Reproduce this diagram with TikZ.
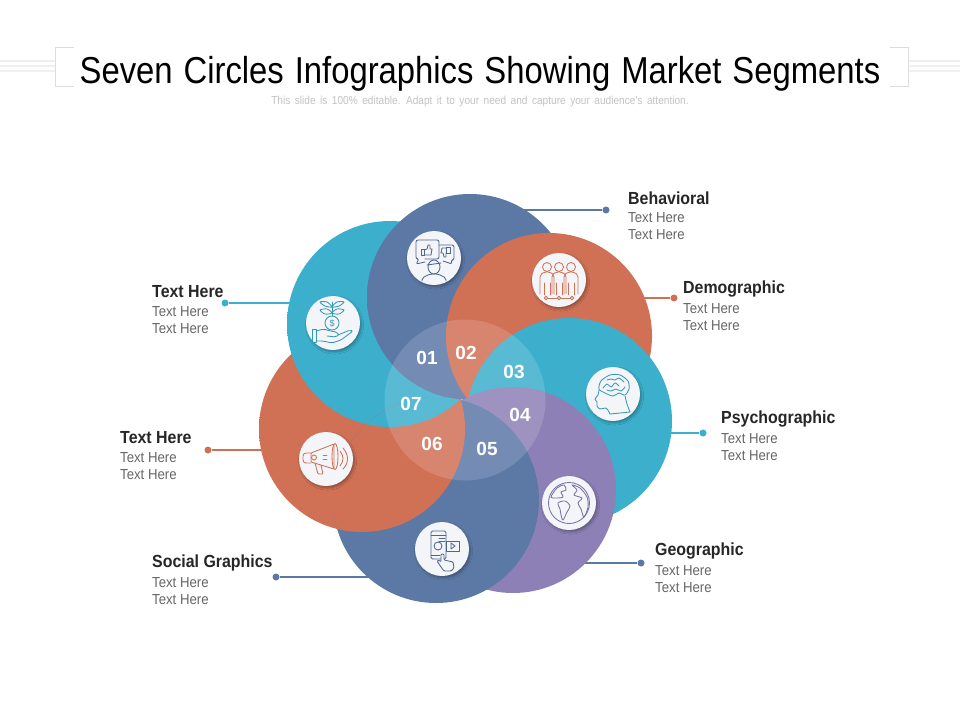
\documentclass[tikz,border=0pt]{standalone}
\usepackage{fontspec}
\usetikzlibrary{shadows.blur}
\setmainfont{Liberation Sans}
\newfontfamily\titlefont[FakeStretch=0.875,WordSpace=1.2]{Liberation Sans}
\newfontfamily\subfont[FakeStretch=0.88,WordSpace=1.6]{Liberation Sans}
\newfontfamily\headfont[FakeStretch=0.91]{Liberation Sans}
\newfontfamily\slimfont[FakeStretch=0.91]{Liberation Sans}

\definecolor{tealbase}{HTML}{3CAFCC}
\definecolor{tealedge}{HTML}{3699B6}
\definecolor{bluebase}{HTML}{5C79A6}
\definecolor{blueedge}{HTML}{4D6690}
\definecolor{orangebase}{HTML}{D07055}
\definecolor{orangeedge}{HTML}{BD644B}
\definecolor{purplebase}{HTML}{8C80B6}
\definecolor{purpleedge}{HTML}{7B70A4}
\definecolor{discfill}{HTML}{F3F5F8}
\definecolor{rulegrey}{HTML}{DDDDDD}
\definecolor{stripegrey}{HTML}{EFEFEF}

\pgfdeclareradialshading{tealball}{\pgfpoint{0bp}{0bp}}{color(0bp)=(tealbase);color(36bp)=(tealbase);color(50bp)=(tealedge)}
\pgfdeclareradialshading{blueball}{\pgfpoint{0bp}{0bp}}{color(0bp)=(bluebase);color(36bp)=(bluebase);color(50bp)=(blueedge)}
\pgfdeclareradialshading{orangeball}{\pgfpoint{0bp}{0bp}}{color(0bp)=(orangebase);color(36bp)=(orangebase);color(50bp)=(orangeedge)}
\pgfdeclareradialshading{purpleball}{\pgfpoint{0bp}{0bp}}{color(0bp)=(purplebase);color(36bp)=(purplebase);color(50bp)=(purpleedge)}

\tikzset{
	ball/.style={circle, minimum size=206pt, inner sep=0pt},
	icondisc/.style={circle, minimum size=54pt, inner sep=0pt, fill=discfill, blur shadow={shadow xshift=1.5pt, shadow yshift=-2pt, shadow blur steps=6, shadow opacity=30}},
	icon/.style={line width=0.85pt, line join=round, line cap=round},
	dot/.style={circle, minimum size=7pt, inner sep=0pt},
	link/.style={line width=1.5pt},
	numlabel/.style={text=white, font=\fontsize{19}{19}\selectfont\bfseries, inner sep=0pt},
	headlabel/.style={anchor=west, inner sep=0pt, text=black!85, font=\fontsize{17.5}{19}\headfont\bfseries},
	textlabel/.style={anchor=west, inner sep=0pt, align=left, text=black!60, font=\fontsize{14.5}{17}\slimfont}
}

\begin{document}
\begin{tikzpicture}[x=1pt, y=-1pt]
	\useasboundingbox (0,0) rectangle (960,720);

	\draw[stripegrey, line width=1.5pt] (0,61) -- (55,61) (0,66) -- (55,66) (0,71) -- (55,71);
	\draw[stripegrey, line width=1.5pt] (908,61) -- (960,61) (908,66) -- (960,66) (908,71) -- (960,71);
	\draw[rulegrey] (74,47) -- (55,47) -- (55,86) -- (74,86);
	\draw[rulegrey] (890,47) -- (908,47) -- (908,86) -- (890,86);
	\draw (480,73.5) node[inner sep=0pt, font=\fontsize{37.5}{40}\titlefont] (title) {Seven Circles Infographics Showing Market Segments};
	\draw (480,102) node[inner sep=0pt, text=black!24, font=\fontsize{11.5}{13}\subfont] (subtitle) {This slide is 100\% editable. Adapt it to your need and capture your audience's attention.};

	\coordinate (midTealLeft) at (390,324);
	\coordinate (midBlueTop) at (470,297);
	\coordinate (midOrangeTop) at (549,336);
	\coordinate (midTealRight) at (569,421);
	\coordinate (midPurple) at (513,490);
	\coordinate (midBlueBot) at (436,500);
	\coordinate (midOrangeLeft) at (362,429);

	\draw (606,210) node[dot, fill=bluebase] (dotBehav) {};
	\draw (674,298) node[dot, fill=orangebase] (dotDemo) {};
	\draw (703,433) node[dot, fill=tealbase] (dotPsycho) {};
	\draw (641,563) node[dot, fill=bluebase] (dotGeo) {};
	\draw (276,577) node[dot, fill=bluebase] (dotSocial) {};
	\draw (208,450) node[dot, fill=orangebase] (dotOrange) {};
	\draw (225,303) node[dot, fill=tealbase] (dotTeal) {};

	\draw[link, bluebase] (dotBehav) -- (dotBehav -| midBlueTop);
	\draw[link, orangebase] (dotDemo) -- (dotDemo -| midOrangeTop);
	\draw[link, tealbase] (dotPsycho) -- (dotPsycho -| midTealRight);
	\draw[link, bluebase] (dotGeo) -- (dotGeo -| midPurple);
	\draw[link, bluebase] (dotSocial) -- (dotSocial -| midBlueBot);
	\draw[link, orangebase] (dotOrange) -- (dotOrange -| midOrangeLeft);
	\draw[link, tealbase] (dotTeal) -- (dotTeal -| midTealLeft);

	\draw (midOrangeLeft) node[ball, shading=orangeball] (ballOrangeLeft) {};
	\draw (midTealLeft) node[ball, shading=tealball] (ballTealLeft) {};
	\draw (midBlueTop) node[ball, shading=blueball] (ballBlueTop) {};
	\draw (midOrangeTop) node[ball, shading=orangeball] (ballOrangeTop) {};
	\draw (midTealRight) node[ball, shading=tealball] (ballTealRight) {};
	\draw (midPurple) node[ball, shading=purpleball] (ballPurple) {};
	\draw (midBlueBot) node[ball, shading=blueball] (ballBlueBot) {};
	\begin{scope}
		\clip (midBlueBot) circle (103);
		\draw (midOrangeLeft) node[ball, shading=orangeball] (ballOrangeOver) {};
		\draw (midTealLeft) node[ball, shading=tealball] (ballTealOver) {};
	\end{scope}

	\draw (465,400) node[circle, minimum size=161pt, inner sep=0pt, fill=white, fill opacity=0.15] (hub) {};

	\draw (427,358) node[numlabel] (num1) {01};
	\draw (466,353) node[numlabel] (num2) {02};
	\draw (514,372) node[numlabel] (num3) {03};
	\draw (520,415) node[numlabel] (num4) {04};
	\draw (487,449) node[numlabel] (num5) {05};
	\draw (432,444) node[numlabel] (num6) {06};
	\draw (411,404) node[numlabel] (num7) {07};

	\draw (333,323) node[icondisc] (discPlant) {};
	\draw (434,258) node[icondisc] (discTalk) {};
	\draw (559,280) node[icondisc] (discPeople) {};
	\draw (613,394) node[icondisc] (discBrain) {};
	\draw (569,503) node[icondisc] (discGlobe) {};
	\draw (442,549) node[icondisc] (discPhone) {};
	\draw (326,459) node[icondisc] (discHorn) {};

	\begin{scope}[shift={(333,323)}, icon, draw=tealedge]
		\draw (-1,0) circle (7);
		\draw (-1,0) node[inner sep=0pt, text=tealedge, font=\fontsize{9}{9}\selectfont] (coin) {\$};
		\draw (-1,-7) -- (-1,-21);
		\draw plot[smooth cycle] coordinates {(-1,-10) (-6,-14) (-13,-13) (-8,-9)};
		\draw plot[smooth cycle] coordinates {(-1,-10) (4,-14) (11,-13) (6,-9)};
		\draw plot[smooth cycle] coordinates {(-1,-16) (-6,-21) (-13,-21) (-8,-17)};
		\draw plot[smooth cycle] coordinates {(-1,-16) (4,-21) (11,-21) (6,-17)};
		\draw (-21,6) rectangle (-17,19);
		\draw[rounded corners=2] (-17,8) -- (-9,6) -- (-3,8) -- (4,9) -- (6,12) -- (3,14) -- (-6,13);
		\draw[rounded corners=2] (5,12) -- (17,7) -- (20,8) -- (8,17) -- (-1,20) -- (-10,18) -- (-17,18);
	\end{scope}

	\begin{scope}[shift={(434,258)}, icon, draw=blueedge]
		\draw[rounded corners=2] (-9,1) -- (5,1) -- (5,-18) -- (-18,-18) -- (-18,1) -- (-15,1) -- (-18,6) -- (-9,4);
		\draw[rounded corners=2] (5,-13) -- (20,-13) -- (20,2) -- (17,2) -- (18,6) -- (9,3);
		\draw (-13,-9) rectangle (-10,-3);
		\draw (-10,-8) -- (-7,-9) -- (-6,-13) -- (-4,-13) -- (-4,-9) -- (-2,-9) -- (-3,-3) -- (-10,-3);
		\draw (12,-11) rectangle (16,-5);
		\draw (12,-10) -- (8,-10) -- (7,-5) -- (9,-5) -- (10,-1) -- (12,-1) -- (12,-5);
		\draw (0,9) ellipse (6 and 7);
		\draw (-7,7) -- (7,5);
		\draw[rounded corners=2] (-12,23) -- (-12,20) -- (-4,16) -- (4,16) -- (12,20) -- (12,23);
	\end{scope}

	\begin{scope}[shift={(559,280)}, icon, draw=orangebase]
		\draw (-12,-13) circle (4.5);
		\draw[rounded corners=2] (-19,14) -- (-19,-5) -- (-15,-8) -- (-9,-8) -- (-5,-5) -- (-5,14);
		\draw (-15,3) -- (-15,15) (-9,3) -- (-9,15);
		\draw (0,-13) circle (4.5);
		\draw[rounded corners=2] (-7,14) -- (-7,-5) -- (-3,-8) -- (3,-8) -- (7,-5) -- (7,14);
		\draw (-3,3) -- (-3,15) (3,3) -- (3,15);
		\draw (12,-13) circle (4.5);
		\draw[rounded corners=2] (5,14) -- (5,-5) -- (9,-8) -- (15,-8) -- (19,-5) -- (19,14);
		\draw (9,3) -- (9,15) (15,3) -- (15,15);
		\draw (-14,18) -- (14,18);
		\draw[fill=discfill] (-13,18) circle (1.8);
		\draw[fill=discfill] (0,18) circle (1.8);
		\draw[fill=discfill] (13,18) circle (1.8);
	\end{scope}

	\begin{scope}[shift={(613,394)}, icon, draw=tealedge]
		\draw plot[smooth] coordinates {(-14,-4) (-15,1) (-18,5) (-16,8) (-16,12) (-13,15) (-7,14) (-4,18) (-3,20)};
		\draw (-3,20) -- (17,18);
		\draw plot[smooth] coordinates {(17,18) (14,10) (12,2)};
		\draw plot[smooth cycle] coordinates {(-14,-5) (-12,-13) (-3,-19) (7,-19) (15,-13) (16,-5) (12,1) (6,-1) (0,2) (-8,-1)};
		\draw plot[smooth] coordinates {(-10,-6) (-6,-10) (-2,-7) (2,-11) (6,-8)};
		\draw plot[smooth] coordinates {(-6,-14) (-2,-15) (2,-14) (6,-16) (11,-12)};
		\draw plot[smooth] coordinates {(-6,-4) (-2,-3) (3,-5) (8,-3) (12,-7)};
	\end{scope}

	\begin{scope}[shift={(569,503)}, icon, draw=purpleedge]
		\draw (0,0) circle (20.5);
		\draw plot[smooth cycle] coordinates {(-18,-6) (-12,-15) (-5,-18) (-3,-13) (-8,-11) (-6,-6) (-12,-5)};
		\draw plot[smooth cycle] coordinates {(-11,0) (-4,-2) (1,3) (-2,9) (-6,17) (-8,12) (-9,6)};
		\draw plot[smooth cycle] coordinates {(3,-18) (11,-15) (18,-6) (19,4) (15,14) (12,6) (9,0) (13,-5) (5,-8) (8,-13)};
	\end{scope}

	\begin{scope}[shift={(442,549)}, icon, draw=blueedge]
		\draw[rounded corners=1.5] (-11,-18) rectangle (4,10);
		\draw (-11,-14) -- (4,-14) (-11,6) -- (-2,6);
		\draw (-3,-11) -- (3,-11) (-3,-8) -- (3,-8);
		\draw (-4,-3) circle (4);
		\draw[fill=discfill] (4,-8) rectangle (17,2);
		\draw (9,-6) -- (13,-3) -- (9,0) -- cycle;
		\draw[fill=discfill, rounded corners=1] (-1,18) -- (-5,12) -- (-3,11) -- (-1,13) -- (-1,5) -- (2,5) -- (2,11) -- (11,13) -- (12,19) -- (9,22) -- (2,22) -- cycle;
	\end{scope}

	\begin{scope}[shift={(326,459)}, icon, draw=orangebase]
		\draw[rounded corners=1] (-15,-6) -- (8,-15) -- (8,10) -- (-15,3) -- cycle;
		\draw (9,-2.5) ellipse (3 and 13);
		\draw[rounded corners=3] (-15,-6) -- (-23,-6) -- (-23,4) -- (-15,4);
		\draw (-12,-1.5) circle (2.5);
		\draw[rounded corners=1] (-11,4) -- (-8,15) -- (-3,15) -- (-5,6);
		\draw (14,-8) .. controls (18,-3) and (18,2) .. (14,7);
		\draw (17,-11) .. controls (23,-4) and (23,4) .. (17,10);
		\draw (-3,-4) -- (1,-4) (-3,0) -- (1,0);
	\end{scope}

	\draw (628,198) node[headlabel] (headBehav) {Behavioral};
	\draw (628,226.5) node[textlabel] (textBehav) {Text Here\\Text Here};
	\draw (683,289) node[headlabel] (headDemo) {Demographic};
	\draw (683,317.5) node[textlabel] (textDemo) {Text Here\\Text Here};
	\draw (721,419) node[headlabel] (headPsycho) {Psychographic};
	\draw (721,447.5) node[textlabel] (textPsycho) {Text Here\\Text Here};
	\draw (655,551) node[headlabel] (headGeo) {Geographic};
	\draw (655,579.5) node[textlabel] (textGeo) {Text Here\\Text Here};
	\draw (152,563) node[headlabel] (headSocial) {Social Graphics};
	\draw (152,591.5) node[textlabel] (textSocial) {Text Here\\Text Here};
	\draw (120,438) node[headlabel] (headOrange) {Text Here};
	\draw (120,466.5) node[textlabel] (textOrange) {Text Here\\Text Here};
	\draw (152,292) node[headlabel] (headTeal) {Text Here};
	\draw (152,320.5) node[textlabel] (textTeal) {Text Here\\Text Here};
\end{tikzpicture}
\end{document}
